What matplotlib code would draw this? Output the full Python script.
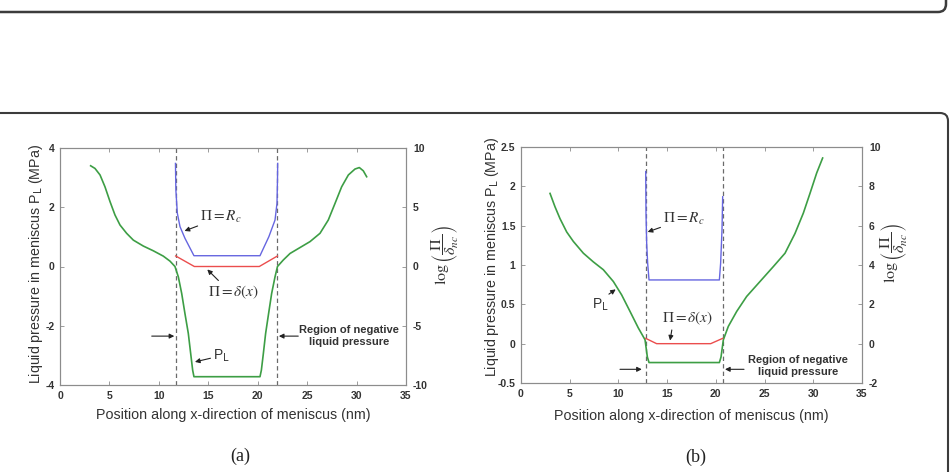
import numpy as np
import matplotlib
matplotlib.use("Agg")
import matplotlib.pyplot as plt
from matplotlib.patches import FancyBboxPatch

plt.rcParams['font.family'] = ['Liberation Sans', 'DejaVu Sans']
plt.rcParams['axes.unicode_minus'] = False

# ---- panel (a) data ----
a_pl_x = [3.10, 3.54, 4.05, 4.55, 5.06, 5.56, 6.07, 6.74, 7.42, 8.43, 9.44, 10.45, 11.13, 11.63,
          11.97, 12.31, 12.64, 12.98, 13.22, 13.42, 13.55, 20.23, 20.37, 20.57, 20.80, 21.10,
          21.41, 21.75, 22.0, 22.59, 23.27, 24.28, 25.29, 26.30, 27.14, 27.82, 28.49, 29.17,
          29.84, 30.28, 30.68, 31.02]
a_pl_y = [3.40, 3.31, 3.09, 2.69, 2.19, 1.74, 1.40, 1.12, 0.89, 0.69, 0.53, 0.35, 0.18, 0.0,
          -0.35, -0.91, -1.59, -2.26, -2.94, -3.50, -3.72, -3.72, -3.50, -2.94, -2.26, -1.59,
          -0.91, -0.35, 0.0, 0.22, 0.44, 0.64, 0.84, 1.12, 1.57, 2.13, 2.69, 3.09,
          3.29, 3.34, 3.23, 3.03]
a_rc_x = [11.68, 11.72, 11.87, 12.14, 12.64, 13.55, 20.23, 21.13, 21.75, 21.95, 22.0, 22.02]
a_rc_y = [8.7, 6.46, 4.49, 3.36, 2.38, 0.91, 0.91, 2.52, 3.92, 5.33, 7.3, 8.7]
a_dx_x = [11.7, 13.59, 20.16, 22.0]
a_dx_y = [0.89, 0.0, 0.0, 0.89]
a_dash = [11.7, 22.0]

# ---- panel (b) data ----
b_pl_x = [2.98, 3.49, 4.00, 4.69, 5.37, 6.40, 7.42, 8.45, 9.48, 10.33, 11.19, 12.04, 12.73,
          12.97, 13.14, 20.36, 20.53, 20.77, 21.28, 22.14, 23.16, 24.53, 25.90, 27.10, 28.12,
          28.98, 29.66, 30.35, 30.96]
b_pl_y = [1.91, 1.74, 1.59, 1.42, 1.30, 1.15, 1.04, 0.94, 0.79, 0.62, 0.41, 0.20, 0.05,
          -0.17, -0.24, -0.24, -0.17, 0.05, 0.22, 0.41, 0.60, 0.79, 0.98, 1.15, 1.40,
          1.66, 1.91, 2.17, 2.36]
b_rc_x = [12.80, 12.83, 12.90, 13.00, 13.14, 20.36, 20.49, 20.63, 20.70]
b_rc_y = [8.75, 6.63, 5.10, 4.09, 3.24, 3.24, 4.09, 5.78, 7.47]
b_dx_x = [12.80, 13.92, 19.47, 20.70]
b_dx_y = [0.27, 0.0, 0.0, 0.27]
b_dash = [12.8, 20.7]

green = (0.24, 0.62, 0.27)
blue = (0.40, 0.40, 0.88)
red = (0.92, 0.30, 0.30)
txt = '#333333'
spine = '#8c8c8c'

W, H = 951, 472
fig = plt.figure(figsize=(W / 100, H / 100), dpi=100)

# page frames
fig.patches.append(FancyBboxPatch((-0.3, 4.60), 9.76, 1.0, boxstyle="round,pad=0,rounding_size=0.08",
                                  transform=fig.dpi_scale_trans, fill=False, lw=1.8, ec='#3c3c3c'))
fig.patches.append(FancyBboxPatch((-0.3, -0.5), 9.78, 4.09, boxstyle="round,pad=0,rounding_size=0.08",
                                  transform=fig.dpi_scale_trans, fill=False, lw=1.5, ec='#3c3c3c'))


def px_axes(l, t, r, b):
    return fig.add_axes([l / W, (H - b) / H, (r - l) / W, (b - t) / H])


def style(ax, ax2):
    for a in (ax, ax2):
        for s in a.spines.values():
            s.set_color(spine)
            s.set_linewidth(0.8)
    ax.tick_params(direction='in', length=3, width=0.6, color=spine, top=True, right=False,
                   labelsize=7.5, labelcolor=txt, pad=4)
    ax2.tick_params(direction='in', length=3, width=0.6, color=spine, labelsize=7.5,
                    labelcolor=txt, pad=5)
    for lab in ax.get_xticklabels() + ax.get_yticklabels() + ax2.get_yticklabels():
        lab.set_fontweight('bold')


def panel(box, pl_x, pl_y, rc_x, rc_y, dx_x, dx_y, dash, ylim, yticks, yticklabels, ylim2, yticks2):
    ax = px_axes(*box)
    ax2 = ax.twinx()
    ax.set_xlim(0, 35)
    ax.set_ylim(*ylim)
    ax2.set_ylim(*ylim2)
    ax.set_xticks(range(0, 36, 5))
    ax.set_yticks(yticks)
    ax.set_yticklabels(yticklabels)
    ax2.set_yticks(yticks2)
    for d in dash:
        ax.axvline(d, color='#6a6a6a', lw=0.9, ls=(0, (3.5, 2.5)))
    ax.plot(pl_x, pl_y, color=green, lw=1.2)
    ax2.plot(rc_x, rc_y, color=blue, lw=1.0)
    ax2.plot(dx_x, dx_y, color=red, lw=1.0)
    style(ax, ax2)
    ax.set_xlabel('Position along x-direction of meniscus (nm)', fontsize=10.3, color=txt)
    ax.set_ylabel(r'Liquid pressure in meniscus P$_\mathrm{L}$ (MPa)', fontsize=10.3, color=txt)
    ax2.set_ylabel(r'$\log\left(\dfrac{\Pi}{\delta_{nc}}\right)$', fontsize=11.5, color=txt,
                   math_fontfamily='stix', rotation=90)
    return ax, ax2


arr = dict(arrowstyle='-|>', color='#222222', lw=0.8, mutation_scale=7, shrinkA=0, shrinkB=0)
mkw = dict(fontsize=11, color=txt, math_fontfamily='stix')

# ---- (a) ----
ax, ax2 = panel((60, 148, 406, 385), a_pl_x, a_pl_y, a_rc_x, a_rc_y, a_dx_x, a_dx_y, a_dash,
                (-4, 4), [-4, -2, 0, 2, 4], ['-4', '-2', '0', '2', '4'],
                (-10, 10), [-10, -5, 0, 5, 10])
ax.yaxis.set_label_coords(-0.042, 0.51)
ax2.yaxis.set_label_coords(1.068, 0.55)
ax.xaxis.set_label_coords(0.5, -0.098)
ax.annotate(r'$\Pi = R_c$', xy=(12.6, 1.2), xytext=(14.2, 1.67), ha='left', va='center',
            arrowprops=arr, **mkw)
ax.annotate(r'$\Pi = \delta(x)$', xy=(14.9, -0.1), xytext=(17.6, -0.86), ha='center', va='center',
            arrowprops=dict(arr, relpos=(0.25, 1.0)), **mkw)
ax.annotate(r'P$_\mathrm{L}$', xy=(13.65, -3.22), xytext=(15.5, -3.02), ha='left', va='center',
            arrowprops=dict(arr, relpos=(0.0, 0.4)), fontsize=10, color=txt)
ax.annotate('', xy=(11.56, -2.35), xytext=(9.28, -2.35), arrowprops=arr)
ax.annotate('', xy=(22.14, -2.35), xytext=(24.1, -2.35), arrowprops=arr)
ax.text(29.2, -2.35, 'Region of negative\nliquid pressure', ha='center', va='center',
        fontsize=8, fontweight='bold', color=txt, linespacing=1.25)
fig.text(240 / W, (H - 456) / H, '(a)', ha='center', va='center', fontsize=13,
         family='Liberation Serif', color='#222222')

# ---- (b) ----
bx, bx2 = panel((521, 147, 862, 383), b_pl_x, b_pl_y, b_rc_x, b_rc_y, b_dx_x, b_dx_y, b_dash,
                (-0.5, 2.5), [-0.5, 0, 0.5, 1, 1.5, 2, 2.5],
                ['-0.5', '0', '0.5', '1', '1.5', '2', '2.5'],
                (-2, 10), [-2, 0, 2, 4, 6, 8, 10])
bx.yaxis.set_label_coords(-0.058, 0.535)
bx2.yaxis.set_label_coords(1.05, 0.55)
bx.xaxis.set_label_coords(0.5, -0.11)
bx.annotate(r'$\Pi = R_c$', xy=(13.0, 1.42), xytext=(14.6, 1.585), ha='left', va='center',
            arrowprops=arr, **mkw)
bx.annotate(r'$\Pi = \delta(x)$', xy=(15.3, 0.04), xytext=(17.1, 0.32), ha='center', va='center',
            arrowprops=dict(arr, relpos=(0.2, 0.0)), **mkw)
bx.annotate(r'P$_\mathrm{L}$', xy=(9.72, 0.69), xytext=(8.1, 0.49), ha='center', va='center',
            arrowprops=dict(arr, relpos=(0.8, 1.0)), fontsize=10, color=txt)
bx.annotate('', xy=(12.4, -0.326), xytext=(10.16, -0.326), arrowprops=arr)
bx.annotate('', xy=(20.94, -0.326), xytext=(22.89, -0.326), arrowprops=arr)
bx.text(28.46, -0.29, 'Region of negative\nliquid pressure', ha='center', va='center',
        fontsize=8, fontweight='bold', color=txt, linespacing=1.25)
fig.text(696 / W, (H - 457) / H, '(b)', ha='center', va='center', fontsize=13,
         family='Liberation Serif', color='#222222')

fig.savefig('out.png', dpi=100)
